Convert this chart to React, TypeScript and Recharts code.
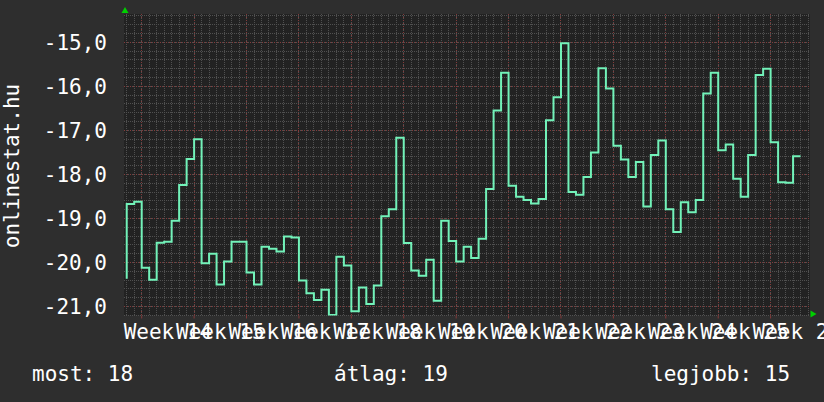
import React from "react";
import { LineChart, Line, XAxis, YAxis, CartesianGrid } from "recharts";

// daily rank values (first entry is the level just before the first full day)
const rankValues: number[] = [
  -20.37,
  -18.67, -18.62, -20.12, -20.39, -19.55, -19.53, -19.05, -18.24, -17.65, -17.2,
  -20.02, -19.8, -20.5, -19.98, -19.53, -19.53, -20.23, -20.5, -19.64, -19.69,
  -19.75, -19.41, -19.43, -20.41, -20.7, -20.85, -20.62, -21.19, -19.87, -20.07,
  -21.11, -20.57, -20.94, -20.52, -18.95, -18.79, -17.17, -19.56, -20.18, -20.3,
  -19.94, -20.87, -19.05, -19.51, -19.98, -19.64, -19.9, -19.46, -18.33, -16.55,
  -15.69, -18.26, -18.51, -18.58, -18.66, -18.56, -16.77, -16.25, -15.02, -18.4,
  -18.46, -18.06, -17.5, -15.59, -16.05, -17.35, -17.66, -18.06, -17.72, -18.73,
  -17.56, -17.23, -18.79, -19.31, -18.63, -18.86, -18.58, -16.16, -15.69, -17.45,
  -17.32, -18.1, -18.51, -17.56, -15.74, -15.6, -17.27, -18.18, -18.19, -17.59,
];
const START_DAY = -2;

const weekNumbers: number[] = [14, 15, 16, 17, 18, 19, 20, 21, 22, 23, 24, 25, 26];
const yTicks: number[] = [-21, -20, -19, -18, -17, -16, -15];

const summaryLabels: string[] = ["most", "átlag", "legjobb"];
const summaryValues: number[] = [18, 19, 15];
const axisTitle = "onlinestat.hu";

const X_DOMAIN: [number, number] = [-2.364, 89.26];
const Y_DOMAIN: [number, number] = [-21.204, -14.357];

const data = rankValues.map((v, i) => ({ day: START_DAY + i, rank: v }));
const weekTickDays = weekNumbers.map((_, i) => i * 7);

const minorY: number[] = [];
for (let v = -21.2; v <= -14.35; v += 0.2) minorY.push(Math.round(v * 10) / 10);
const minorX: number[] = [];
for (let d = -2; d <= 89; d++) minorX.push(d);

const FONT = "'DejaVu Sans Mono', monospace";
const BG = "#2e2e2e";
const PLOT_BG = "#222222";
const MINOR = "#505050";
const MAJOR = "#843a3a";
const LINE = "#72f2b9";
const ARROW = "#00d000";

const HALF_WEEK_PX = 26.2;

const XTick = (props: any) => {
  const { x, y, index } = props;
  return (
    <text
      x={x + HALF_WEEK_PX}
      y={y + 20}
      textAnchor="middle"
      fill="#ffffff"
      fontSize={21}
      fontFamily={FONT}
    >
      {`Week ${weekNumbers[index]}`}
    </text>
  );
};

export default function App() {
  return (
    <div
      style={{
        position: "absolute",
        left: 0,
        top: 0,
        width: 824,
        height: 402,
        background: BG,
      }}
    >
      <LineChart
        width={824}
        height={402}
        data={data}
        margin={{ top: 14, right: 14, bottom: 0, left: 0 }}
      >
        <CartesianGrid
          fill={PLOT_BG}
          stroke={MINOR}
          strokeDasharray="1 1"
          shapeRendering="crispEdges"
          horizontalValues={minorY}
          verticalValues={minorX}
        />
        <CartesianGrid
          stroke={MAJOR}
          strokeDasharray="1 2"
          shapeRendering="crispEdges"
          horizontalValues={yTicks}
          verticalValues={weekTickDays}
        />
        <XAxis
          dataKey="day"
          type="number"
          domain={X_DOMAIN}
          allowDataOverflow
          ticks={weekTickDays}
          interval={0}
          height={86.5}
          axisLine={false}
          tickLine={{ stroke: MAJOR }}
          tickSize={3}
          tickMargin={0}
          tick={<XTick />}
        />
        <YAxis
          type="number"
          domain={Y_DOMAIN}
          allowDataOverflow
          ticks={yTicks}
          interval={0}
          width={124}
          axisLine={false}
          tickLine={false}
          tickSize={0}
          tickMargin={17}
          tickFormatter={(v: number) => v.toFixed(1).replace(".", ",")}
          tick={{ fill: "#ffffff", fontSize: 21, fontFamily: FONT }}
        />
        <Line
          type="stepBefore"
          dataKey="rank"
          stroke={LINE}
          strokeWidth={2}
          dot={false}
          activeDot={false}
          isAnimationActive={false}
        />
      </LineChart>
      <svg
        width={824}
        height={402}
        style={{ position: "absolute", left: 0, top: 0, pointerEvents: "none" }}
      >
        <text
          x={18.5}
          y={166}
          transform="rotate(-90 18.5 166)"
          textAnchor="middle"
          fill="#ffffff"
          fontSize={21}
          fontFamily={FONT}
        >
          {axisTitle}
        </text>
        <text x={32} y={381} fill="#ffffff" fontSize={21} fontFamily={FONT}>
          {`${summaryLabels[0]}: ${summaryValues[0]}`}
        </text>
        <text x={334} y={381} fill="#ffffff" fontSize={21} fontFamily={FONT}>
          {`${summaryLabels[1]}: ${summaryValues[1]}`}
        </text>
        <text x={651} y={381} fill="#ffffff" fontSize={21} fontFamily={FONT}>
          {`${summaryLabels[2]}: ${summaryValues[2]}`}
        </text>
        <polygon points="121.5,13 128.5,13 125,7" fill={ARROW} />
        <polygon points="810.5,310.5 810.5,317.5 816.5,314" fill={ARROW} />
      </svg>
    </div>
  );
}
